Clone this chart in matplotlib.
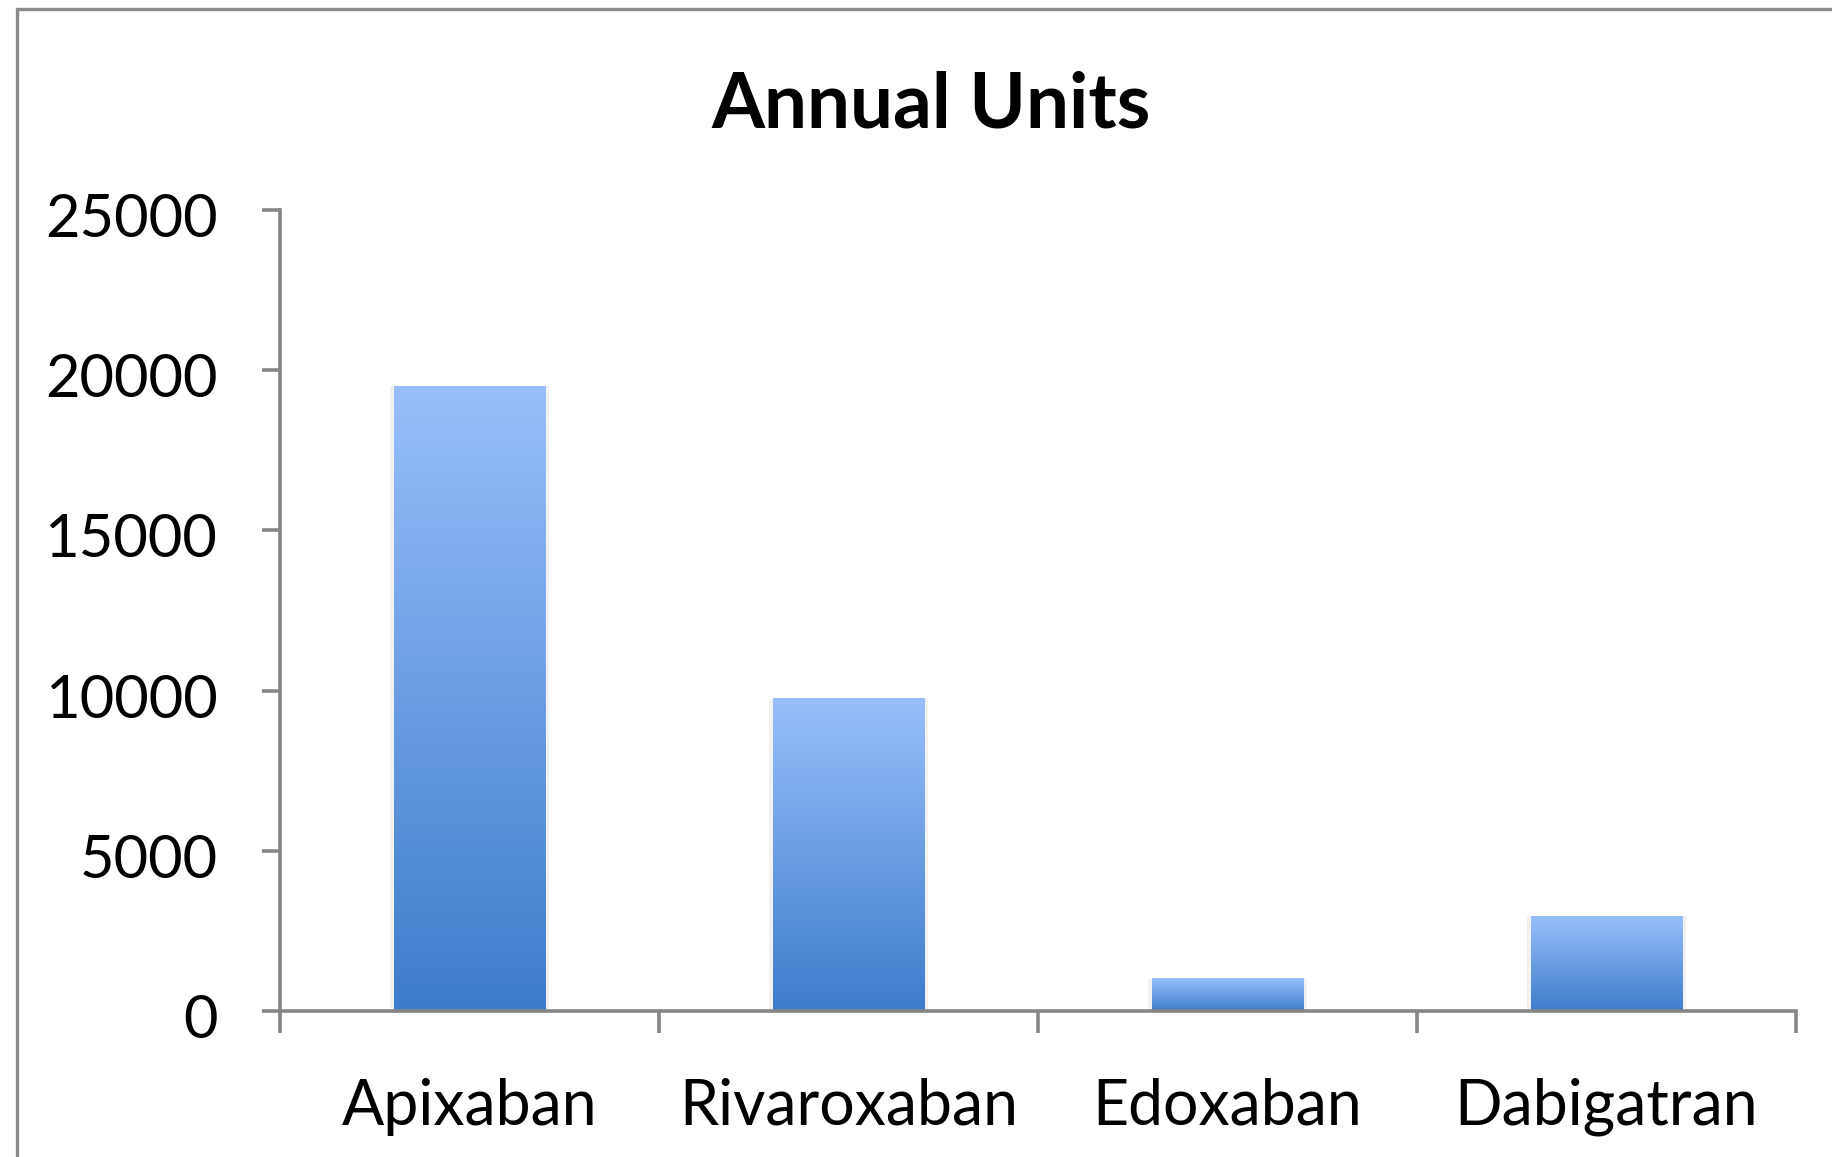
import numpy as np
import matplotlib.pyplot as plt
from matplotlib.colors import LinearSegmentedColormap
from matplotlib.patches import Rectangle
from matplotlib.transforms import ScaledTranslation

# chart data
drugs = ['Apixaban', 'Rivaroxaban', 'Edoxaban', 'Dabigatran']
units = [19500, 9750, 1000, 2950]
yticks = [0, 5000, 10000, 15000, 20000, 25000]

plt.rcParams['font.family'] = ['Lato', 'DejaVu Sans']

fig = plt.figure(figsize=(18.32, 11.57), dpi=100)
fig.patch.set_facecolor('white')

# outer chart frame (cropped on right/bottom like the source)
fig.patches.append(Rectangle((17 / 1832, -0.1), 1.2, 1 - 9 / 1157 + 0.1,
                             transform=fig.transFigure, fill=False,
                             edgecolor='#8a8a8a', linewidth=2.4))

ax = fig.add_axes([0.1528, 0.1262, 0.8275, 0.6923])
ax.set_facecolor('none')

x = np.arange(len(drugs))
# soft shadow behind bars
ax.bar(x, units, width=0.42, color='black', alpha=0.05, zorder=1)
bars = ax.bar(x, units, width=0.4, color='none', zorder=2)

grad = LinearSegmentedColormap.from_list('g', ['#3d7ccb', '#98bffb'])
g = np.linspace(0, 1, 256).reshape(-1, 1)
for b in bars:
    x0, y0 = b.get_x(), b.get_y()
    ax.imshow(g, cmap=grad, origin='lower', aspect='auto', zorder=3,
              extent=[x0, x0 + b.get_width(), y0, y0 + b.get_height()])

ax.set_xlim(-0.5, len(drugs) - 0.5)
ax.set_ylim(0, 25000)

for s in ['top', 'right']:
    ax.spines[s].set_visible(False)
for s in ['left', 'bottom']:
    ax.spines[s].set_color('#868686')
    ax.spines[s].set_linewidth(2.6)
    ax.spines[s].set_zorder(4)

ax.set_yticks(yticks)
ax.set_yticklabels([str(v) for v in yticks])
ax.tick_params(axis='y', length=13, width=2.6, color='#868686', pad=32,
               labelsize=43)
# labels sit a touch below their ticks in the source
shift = ScaledTranslation(0, -5 / 100, fig.dpi_scale_trans)
for t in ax.get_yticklabels():
    t.set_transform(t.get_transform() + shift)

# boundary ticks on major, labels at centres on minor
ax.set_xticks(np.arange(len(drugs) + 1) - 0.5)
ax.set_xticklabels([])
ax.set_xticks(x, minor=True)
ax.set_xticklabels(drugs, minor=True)
ax.tick_params(axis='x', which='major', length=16, width=2.6, color='#868686')
ax.tick_params(axis='x', which='minor', length=0, pad=48, labelsize=45)

fig.text(931 / 1832, 1 - 106 / 1157, 'Annual Units', ha='center', va='center',
         fontsize=55, fontweight='bold')

fig.savefig('out.png', dpi=100)
